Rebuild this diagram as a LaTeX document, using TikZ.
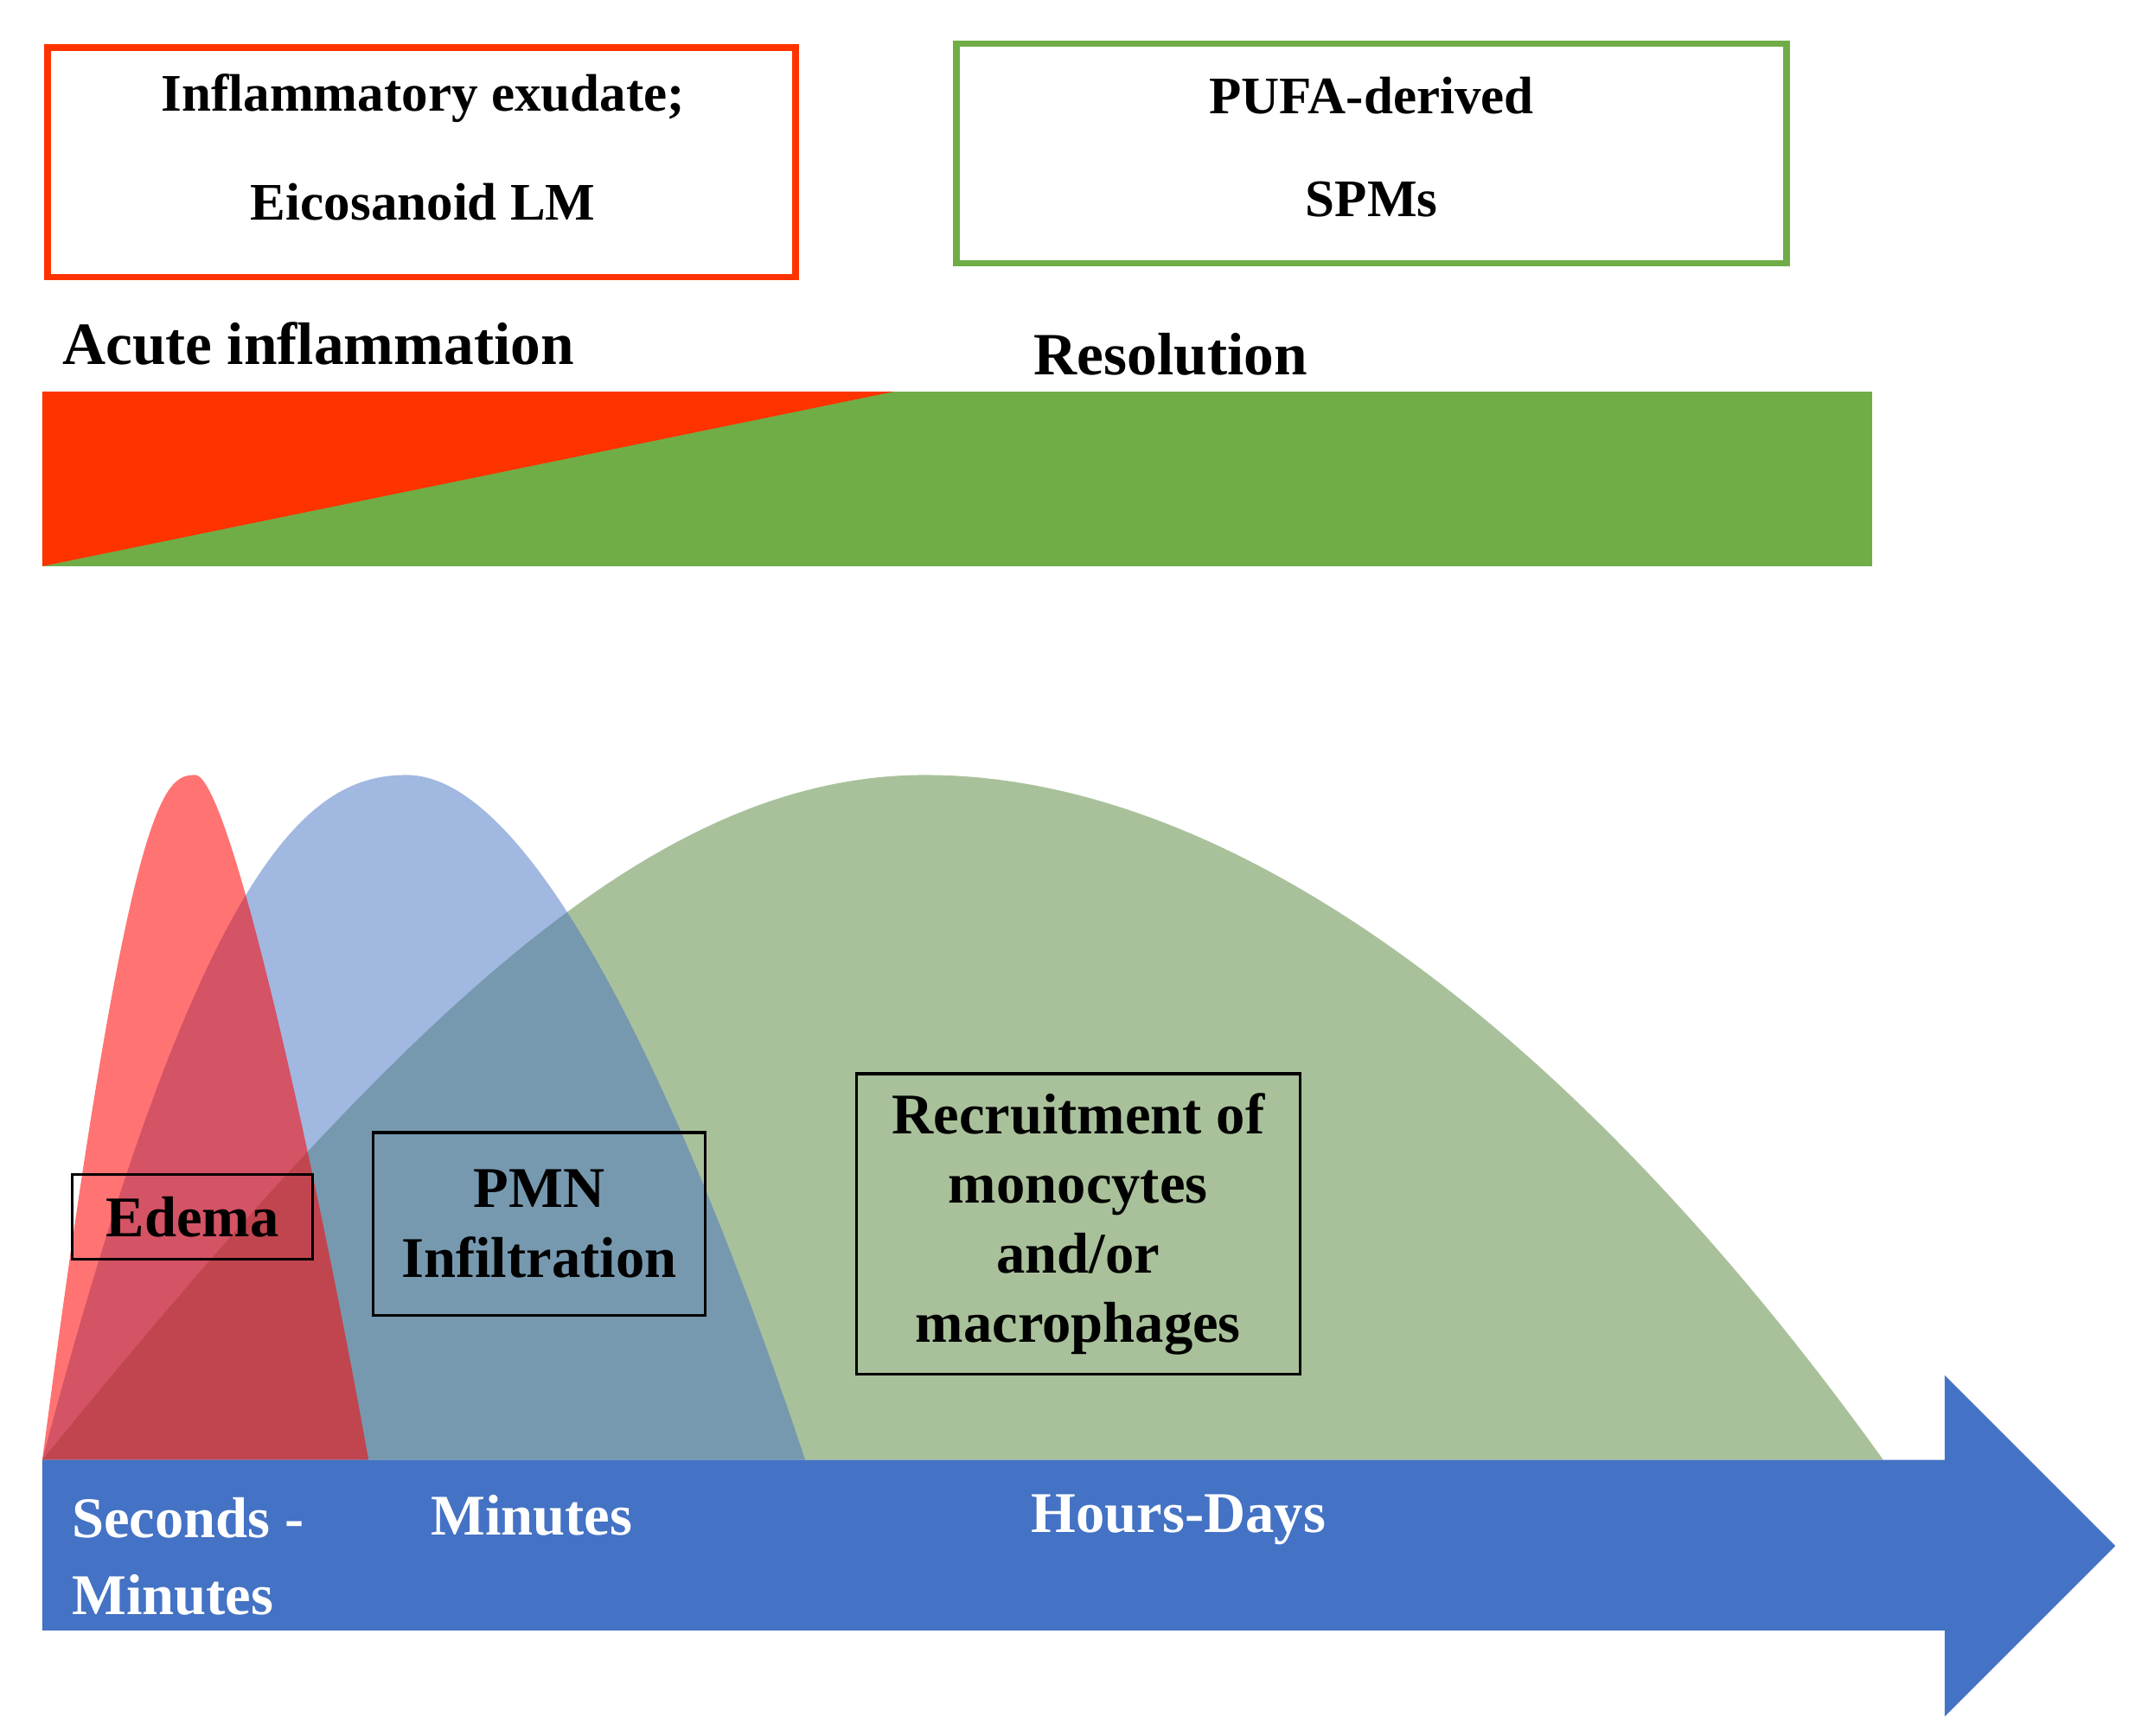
\documentclass[tikz,border=0pt]{standalone}
\usepackage{fontspec}
\setmainfont{Liberation Serif}
\usetikzlibrary{positioning}
\definecolor{exred}{HTML}{FF3300}
\definecolor{spmgreen}{HTML}{70AD47}
\definecolor{timeblue}{HTML}{4472C4}
\definecolor{curvegreen}{HTML}{A9C19A}
\begin{document}
\begin{tikzpicture}[x=0.01cm,y=-0.01cm]
\tikzset{
  phase/.style={draw=black, line width=0.6pt, align=center, font=\fontsize{12}{14.5}\selectfont\bfseries},
  timelabel/.style={text=white, align=left, font=\fontsize{12}{16}\selectfont\bfseries, inner sep=0pt},
  title/.style={font=\fontsize{12.5}{15}\selectfont\bfseries, inner sep=0pt},
  boxtext/.style={font=\fontsize{11}{15}\selectfont\bfseries, inner sep=0pt}
}
\useasboundingbox (0,0) rectangle (1560,1272);
% header boxes
\draw [exred, line width=1.4pt] (35,35) rectangle (583,203);
\node [boxtext] (exudate) at (310,72) {Inflammatory exudate;};
\node [boxtext] (eico) at (310,148) {Eicosanoid LM};
\draw [spmgreen, line width=1.4pt] (701,32) rectangle (1309,193);
\node [boxtext] (pufa) at (1005,70) {PUFA-derived};
\node [boxtext] (spm) at (1005,146) {SPMs};
% phase bar
\node [title, anchor=west] (acute) at (45,252) {Acute inflammation};
\node [title, anchor=west] (resol) at (757,260) {Resolution};
\fill [spmgreen] (31,287) rectangle (1372,415);
\fill [exred] (31,287) -- (655,287) -- (31,415) -- cycle;
% curves
\fill [curvegreen] (31,1070) .. controls (300,740) and (480,568) .. (678,568)
  .. controls (900,568) and (1150,750) .. (1380,1070) -- cycle;
\fill [timeblue, opacity=0.5] (31,1070) .. controls (150,620) and (230,568) .. (298,568)
  .. controls (390,568) and (500,800) .. (590,1070) -- cycle;
\fill [red, opacity=0.55] (31,1070) .. controls (95,580) and (120,568) .. (143,568)
  .. controls (170,568) and (240,900) .. (270,1070) -- cycle;
% time arrow
\fill [timeblue] (31,1070) -- (1425,1070) -- (1425,1008) -- (1550,1133) -- (1425,1258)
  -- (1425,1195) -- (31,1195) -- cycle;
\node [timelabel, anchor=north west] (secs) at (52,1097) {Seconds -\\Minutes};
\node [timelabel, anchor=north west] (mins) at (315,1095) {Minutes};
\node [timelabel, anchor=north west] (hours) at (755,1095) {Hours-Days};
% phase labels
\node [phase, minimum width=1.76cm, minimum height=0.62cm] (edema) at (141,892) {Edema};
\node [phase, minimum width=2.43cm, minimum height=1.34cm] (pmn) at (395,897) {PMN\\Infiltration};
\node [phase, minimum width=3.25cm, minimum height=2.2cm] (recruit) at (790,897) {Recruitment of\\monocytes\\and/or\\macrophages};
\end{tikzpicture}
\end{document}
